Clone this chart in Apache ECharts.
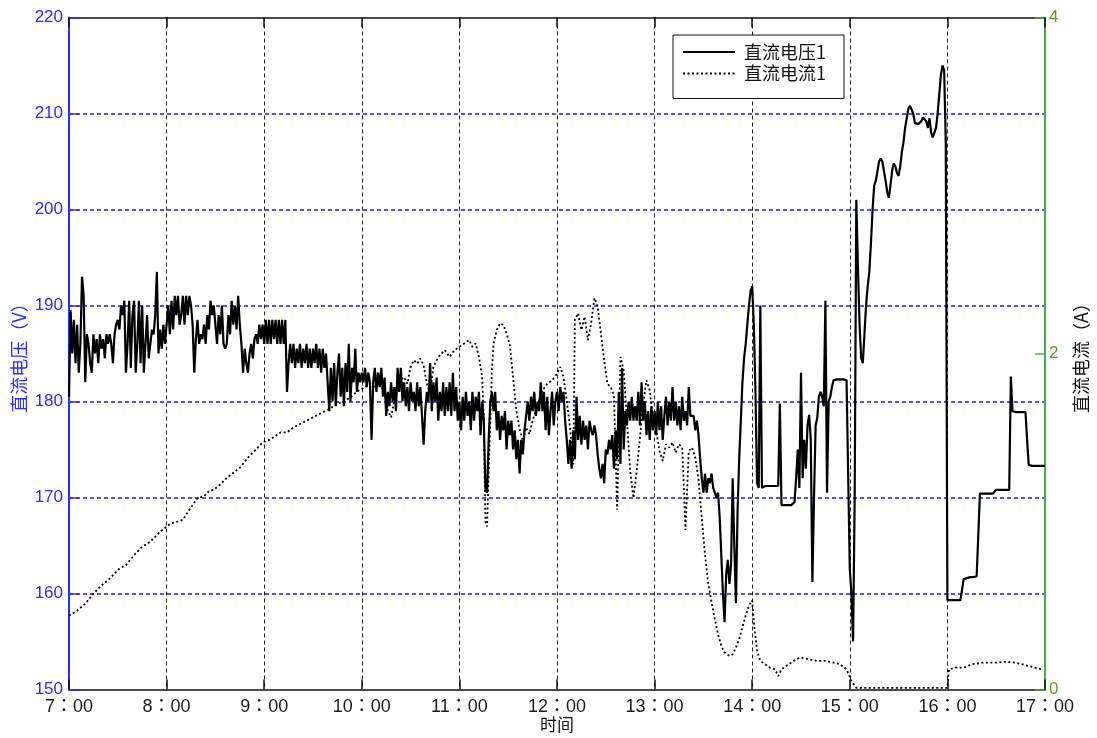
<!DOCTYPE html>
<html>
<head>
<meta charset="utf-8">
<script src="https://cdn.jsdelivr.net/npm/echarts@6/dist/echarts.min.js"></script>
<style>
  html, body { margin: 0; padding: 0; background: #fff; }
  #chart { width: 1097px; height: 738px; }
</style>
</head>
<body>
<div id="chart"></div>
<script>
// Hour labels for the time axis (minutes counted from 7:00)
const hourLabels = ['7', '8', '9', '10', '11', '12', '13', '14', '15', '16', '17'];

// DC voltage, one reading per minute, grouped by hour
const volt07 = [180.5, 189.5, 185, 188.5, 184, 188, 183, 186, 193, 191,
  182, 187, 186, 184, 183, 187, 185, 186.5, 184, 187,
  185.5, 186.5, 184.5, 187, 186, 187, 186, 184, 187, 188,
  188.5, 187.5, 190, 189, 190.5, 183, 186, 190.5, 183.5, 189,
  190.5, 183, 186, 190.5, 184, 190, 183, 186, 189, 184.5,
  186, 187.5, 187, 189, 193.5, 185, 187.5, 185.5, 188, 186];
const volt08 = [188, 190, 187, 190.5, 187.5, 191, 189, 191, 188, 189,
  191, 188, 191, 189, 191, 190, 188, 183, 186.5, 188.5,
  186, 187, 186.5, 188, 186, 189, 187.5, 190.5, 189, 190,
  188, 186, 189, 187, 190, 186, 185.5, 186, 189, 187,
  190.5, 188, 190, 187.5, 191, 188, 186, 183, 185.5, 184,
  183, 185, 186, 184.5, 186.5, 187, 186, 188, 186.5, 188];
const volt09 = [186, 188.5, 186, 188.5, 186, 188.5, 186.5, 188.5, 186, 188.5,
  186, 188.5, 186, 188.5, 181, 184, 186, 184, 186, 183.5,
  185.5, 184, 186, 183.5, 185.5, 184, 186, 183.5, 185.5, 183.5,
  185.5, 184, 186, 183.5, 185.5, 183, 185.5, 183.5, 185, 182,
  179, 183.5, 180, 184, 179.5, 183, 185, 180.5, 183.5, 179.5,
  184, 181, 186, 180, 183.5, 182, 185.5, 181, 183, 182];
const volt10 = [183, 182, 183.5, 181.5, 183, 182, 176, 182, 183.5, 181,
  183, 181.5, 183.5, 180.5, 182.5, 178.5, 181, 179.5, 182, 180,
  181.5, 179, 183.5, 181, 183.5, 180, 182, 179.5, 181.5, 179,
  182, 180, 181, 179, 182, 179.5, 181.5, 178.5, 175.5, 179,
  181, 180, 184, 179, 182, 180, 182.5, 178, 181, 179,
  182, 178.5, 181.5, 179, 182, 178.5, 183, 179, 181.5, 178];
const volt11 = [180, 177, 180.5, 178, 181, 178.5, 180, 177, 181, 178,
  180.5, 179, 181, 176.5, 180, 178, 171, 170.5, 176, 180,
  181, 179, 181, 177, 179, 176, 178.5, 177, 179, 175,
  178, 176.5, 178, 175, 177, 174, 176, 172.5, 176, 174.5,
  177, 178.5, 180, 178, 180.5, 179, 181, 178.5, 180, 179,
  182, 179, 181, 177, 180.5, 176.5, 179, 181, 177.5, 180];
const volt12 = [181, 179, 181.5, 180, 181, 178, 176, 173.5, 176, 173,
  177, 174, 180.5, 176, 178.5, 175.5, 178, 176, 177.5, 175,
  178, 177, 176.5, 177.5, 176.5, 174.5, 173, 172, 173.5, 171.5,
  175, 174.5, 176, 175, 176.5, 173, 177, 174, 181, 173.5,
  183.5, 175, 179, 177.5, 180, 178, 180.5, 178, 179.5, 178,
  181, 177.5, 182, 178, 180, 176.5, 179, 176, 179.5, 177];
const volt13 = [179, 176.5, 180, 177, 179.5, 176, 178.5, 180.5, 177.5, 180,
  178, 181.5, 178, 180, 177.5, 179.5, 177, 180.5, 178, 179,
  177.5, 181.5, 178.5, 178.5, 178.5, 177, 178, 176.5, 174, 172,
  170.5, 172.5, 170.5, 172, 171.5, 172.5, 171, 170.5, 170, 170.5,
  168, 164, 160, 157, 162, 163.5, 161, 163, 172, 165,
  159, 168.5, 174, 178, 182, 184.5, 186, 188, 190, 191.5];
const volt14 = [192, 188, 181, 171.5, 171, 190, 171, 171.2, 171.2, 171.2,
  171.2, 171.2, 171.2, 171.2, 171.2, 171.2, 171.2, 179.8, 169.2, 169.2,
  169.2, 169.2, 169.2, 169.2, 169.2, 169.2, 169.5, 172, 175, 171,
  183, 172, 176, 173, 177.5, 178.6, 176, 161.2, 170, 177.5,
  178.3, 180.5, 181, 180.5, 179.5, 190.5, 170.5, 180, 180.5, 181.5,
  182.2, 182.3, 182.3, 182.3, 182.3, 182.3, 182.3, 182.3, 182.2, 182];
const volt15 = [162.5, 160, 155, 170, 201, 194, 188, 184.5, 184, 187,
  190, 192, 193.5, 196.5, 200, 202.5, 203, 204, 205, 205.3,
  205, 204, 203, 201.8, 201.2, 202.5, 204, 204.8, 204.5, 203.8,
  203.5, 204.5, 206, 207, 208.5, 209.5, 210.5, 210.8, 210.8, 210,
  209, 208.9, 208.9, 209, 209.2, 209.6, 209.6, 209.2, 208.5, 209.5,
  208, 207.5, 207.5, 208.5, 210, 212, 214, 215, 214.5, 207];
const volt16 = [159.3, 159.3, 159.3, 159.3, 159.3, 159.3, 159.3, 159.3, 159.3, 159.3,
  161.5, 161.6, 161.6, 161.7, 161.7, 161.7, 161.7, 161.8, 161.8, 161.8,
  170.4, 170.4, 170.4, 170.4, 170.4, 170.4, 170.4, 170.4, 170.4, 170.4,
  170.8, 170.8, 170.8, 170.8, 170.8, 170.8, 170.8, 170.8, 170.8, 182.6,
  179, 178.9, 178.9, 178.9, 178.9, 178.9, 178.9, 178.9, 178.9, 176,
  173.4, 173.3, 173.3, 173.3, 173.3, 173.3, 173.3, 173.3, 173.3, 173.3, 173.3];

// DC current readings: [minute after 7:00, amperes]
const ampReadings = [
  [0, 0.44], [5, 0.47], [10, 0.51], [15, 0.57], [17, 0.59], [20, 0.62], [25, 0.66],
  [31, 0.72], [35, 0.74], [40, 0.80], [45, 0.85], [50, 0.88], [55, 0.93], [60, 0.97],
  [63, 0.99], [67, 1.00], [70, 1.01], [74, 1.07], [79, 1.14], [83, 1.15], [86, 1.18],
  [89, 1.19], [93, 1.22], [97, 1.26], [101, 1.29], [105, 1.32], [110, 1.38], [115, 1.43],
  [119, 1.47], [124, 1.49], [130, 1.53], [134, 1.53], [138, 1.56], [144, 1.59], [150, 1.62],
  [154, 1.64], [160, 1.67], [165, 1.70], [170, 1.72], [173, 1.74], [178, 1.78], [182, 1.80],
  [185, 1.82], [188, 1.80], [191, 1.84], [194, 1.76], [196, 1.66], [198, 1.62], [200, 1.72],
  [203, 1.84], [206, 1.86], [208, 1.82], [210, 1.92], [212, 1.96], [214, 1.94], [216, 1.97],
  [218, 1.93], [220, 1.82], [222, 1.76], [224, 1.92], [226, 1.96], [228, 1.99], [231, 2.02],
  [234, 1.98], [237, 2.02], [240, 2.04], [243, 2.06], [246, 2.08], [248, 2.04], [250, 2.06],
  [252, 1.98], [254, 1.86], [255, 1.6], [256, 1.0], [257, 0.97], [258, 1.3], [259, 1.6],
  [260, 1.9], [261, 2.06], [263, 2.14], [265, 2.18], [267, 2.17], [269, 2.12], [271, 2.05],
  [273, 1.86], [275, 1.66], [277, 1.55], [279, 1.48], [281, 1.56], [283, 1.52], [285, 1.60],
  [287, 1.66], [289, 1.72], [291, 1.78], [294, 1.82], [297, 1.84], [300, 1.88], [302, 1.92],
  [304, 1.86], [306, 1.72], [308, 1.56], [310, 1.34], [311, 2.2], [313, 2.24], [315, 2.14],
  [317, 2.22], [319, 2.08], [321, 2.18], [323, 2.33], [325, 2.28], [327, 2.12], [329, 1.96],
  [331, 1.82], [333, 1.80], [335, 1.75], [337, 1.07], [339, 1.98], [341, 1.9], [343, 1.6],
  [345, 1.3], [347, 1.14], [349, 1.3], [351, 1.5], [353, 1.7], [355, 1.84], [357, 1.78],
  [359, 1.62], [361, 1.54], [363, 1.42], [365, 1.36], [367, 1.46], [369, 1.44], [371, 1.47],
  [373, 1.41], [375, 1.46], [377, 1.44], [379, 0.95], [381, 1.42], [383, 1.44], [385, 1.38],
  [387, 1.25], [389, 1.02], [391, 0.8], [393, 0.63], [395, 0.52], [397, 0.42], [399, 0.33],
  [401, 0.26], [403, 0.22], [406, 0.2], [408, 0.21], [410, 0.25], [412, 0.3], [414, 0.37],
  [416, 0.44], [418, 0.5], [420, 0.53], [421, 0.4], [423, 0.23], [425, 0.17], [428, 0.15],
  [431, 0.13], [434, 0.12], [436, 0.08], [438, 0.12], [441, 0.14], [444, 0.16], [447, 0.18],
  [450, 0.19], [455, 0.18], [460, 0.17], [465, 0.17], [470, 0.16], [474, 0.15], [478, 0.12],
  [481, 0.05], [484, 0.01], [540, 0.01], [541, 0.12], [545, 0.13], [550, 0.13], [555, 0.15],
  [562, 0.16], [570, 0.16], [575, 0.165], [582, 0.16], [590, 0.14], [598, 0.12]
];

const voltValues = [].concat(volt07, volt08, volt09, volt10, volt11, volt12,
  volt13, volt14, volt15, volt16);
const voltPoints = voltValues.map((v, i) => [i, v]);

const latinFont = "'Liberation Sans', 'Noto Sans CJK TC', sans-serif";
const cjkFont = "'Noto Sans CJK SC', 'Liberation Sans', sans-serif";
const blue = '#2b2bff';
const gridBlue = '#1a1aff';
const green = '#4caa4c';

const chart = echarts.init(document.getElementById('chart'), null, { renderer: 'canvas' });
chart.setOption({
  animation: false,
  backgroundColor: '#fff',
  grid: { left: 69, right: 52, top: 17.5, bottom: 48.5, containLabel: false, outerBoundsMode: 'none' },
  legend: {
    orient: 'vertical',
    left: 673,
    top: 35,
    padding: [8, 18, 16, 9],
    itemGap: 3.5,
    itemWidth: 52,
    itemHeight: 14,
    backgroundColor: '#fff',
    borderColor: '#111',
    borderWidth: 1,
    borderRadius: 0,
    itemStyle: { opacity: 0 },
    textStyle: { fontSize: 18, color: '#111', fontFamily: cjkFont, lineHeight: 18, padding: [0, 0, 0, 4] },
    data: ['直流电压1', '直流电流1']
  },
  xAxis: [
    {
      type: 'value', min: 0, max: 600, interval: 60, position: 'bottom',
      axisLine: { show: true, onZero: false, lineStyle: { color: '#111', width: 1.5 } },
      axisTick: { show: true, inside: true, length: 10, lineStyle: { color: '#111', width: 1.5 } },
      axisLabel: {
        color: '#1a1a1a', fontSize: 18, fontFamily: latinFont, margin: 9,
        formatter: v => hourLabels[Math.round(v / 60)] + '：00'
      },
      splitLine: { show: true, showMinLine: false, showMaxLine: false,
        lineStyle: { color: '#222', width: 1, type: [4, 3] } },
      name: '时间', nameLocation: 'middle', nameGap: 27, nameMoveOverlap: false,
      nameTextStyle: { fontSize: 17, color: '#111', fontFamily: cjkFont }
    },
    {
      type: 'value', min: 0, max: 600, interval: 60, position: 'top',
      axisLine: { show: true, onZero: false, lineStyle: { color: '#111', width: 1.5 } },
      axisTick: { show: true, inside: true, length: 10, lineStyle: { color: '#111', width: 1.5 } },
      axisLabel: { show: false },
      splitLine: { show: false }
    }
  ],
  yAxis: [
    {
      type: 'value', min: 150, max: 220, interval: 10, position: 'left',
      axisLine: { show: true, onZero: false, lineStyle: { color: blue, width: 2 } },
      axisTick: { show: true, inside: true, length: 10, lineStyle: { color: blue, width: 1.5 } },
      axisLabel: { color: blue, fontSize: 17, fontFamily: latinFont, margin: 6 },
      splitLine: { show: true, showMinLine: false, showMaxLine: false,
        lineStyle: { color: gridBlue, width: 1.5, type: [4, 3] } },
      name: '直流电压（V）', nameLocation: 'middle', nameGap: 41, nameRotate: 90, nameMoveOverlap: false,
      nameTextStyle: { fontSize: 18, color: blue, fontFamily: cjkFont }
    },
    {
      type: 'value', min: 0, max: 4, interval: 2, position: 'right',
      axisLine: { show: true, onZero: false, lineStyle: { color: green, width: 2 } },
      axisTick: { show: true, inside: true, length: 10, lineStyle: { color: green, width: 1.5 } },
      axisLabel: { color: '#5b9e1e', fontSize: 17, fontFamily: latinFont, margin: 4 },
      splitLine: { show: false },
      name: '直流电流（A）', nameLocation: 'middle', nameGap: 27, nameRotate: 90, nameMoveOverlap: false,
      nameTextStyle: { fontSize: 18, color: '#111', fontFamily: cjkFont }
    }
  ],
  series: [
    {
      name: '直流电压1', type: 'line', xAxisIndex: 0, yAxisIndex: 0,
      data: voltPoints, symbol: 'none', z: 4,
      itemStyle: { color: '#000' },
      lineStyle: { color: '#000', width: 2.2, join: 'bevel' }
    },
    {
      name: '直流电流1', type: 'line', xAxisIndex: 0, yAxisIndex: 1,
      data: ampReadings, symbol: 'none', z: 3,
      itemStyle: { color: '#000' },
      lineStyle: { color: '#000', width: 1.8, type: [2, 2.5] }
    }
  ]
});
</script>
</body>
</html>
